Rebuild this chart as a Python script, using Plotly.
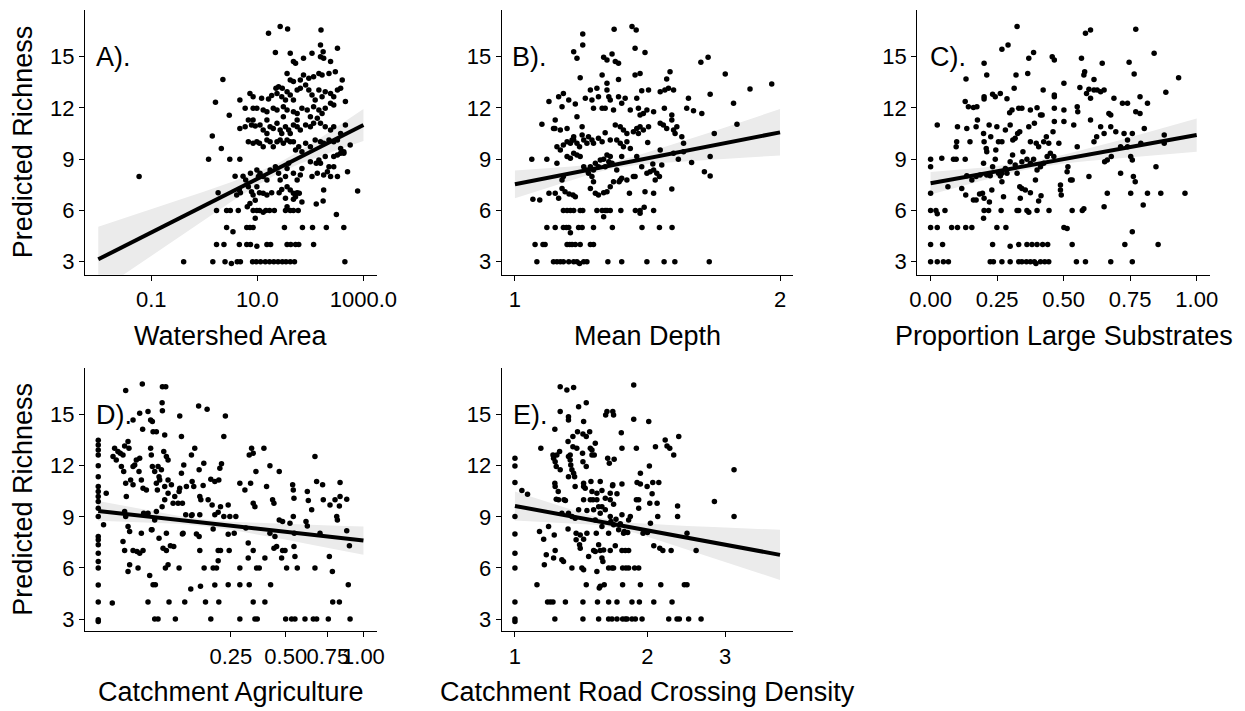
import numpy as np
import plotly.graph_objects as go

# ---------------- Panel A: Watershed Area (log10 km2) ----------------
area_log10 = [
    -1.23, -0.39, 0.16, 0.39, 0.51, 0.62, 0.68, 0.91, 0.98, 1.06, 1.15, 1.23, 1.31, 1.39, 1.47, 1.54, 1.62, 1.70, 2.65,
    0.23, 0.37, 0.66, 0.80, 0.87, 0.99, 1.18, 1.25, 1.56, 1.63, 1.72, 1.78, 2.06,
    0.42, 0.80, 0.86, 0.92, 1.51, 1.85, 2.04, 2.30, 2.63, 0.54, 0.96, 2.49,
    0.23, 0.42, 0.49, 0.64, 0.92, 0.99, 1.04, 1.11, 1.16, 1.23, 1.32, 1.53, 1.62, 1.68, 1.77, 1.56, 1.68, 2.11, 2.24, 0.81, 1.84,
    0.26, 0.61, 0.66, 0.68, 0.58, 0.73, 0.87, 0.83, 0.89, 0.92, 0.96, 0.86,
    0.99, 1.04, 1.11, 1.18, 1.27, 1.41, 1.46, 1.56, 1.62, 1.68, 1.75, 1.79,
    0.78, 1.05, 1.11, 1.18, 0.99, 1.02, 1.24, 1.34, 1.40, 1.43, 1.53, 1.56,
    1.59, 1.68, 1.75, 1.81, 1.84, 2.03, 2.13, 2.19, 2.25, 2.32, 2.35, 2.38,
    2.44, 2.51, 2.70, 2.89, 2.75, 2.00, 2.11, 2.16, 2.28, 2.44, 2.57, 2.63,
    2.25, 1.53, 1.72,
    0.32, 0.48, 0.67, 0.92, 0.83, 0.99, 1.04, 1.11, 1.18, 1.24, 1.30, 1.37,
    1.43, 1.49, 1.56, 1.62, 1.68, 1.72, 1.78, 1.84, 1.91, 2.00, 2.09, 2.19,
    2.25, 2.35, 2.44, 2.51, 0.67, 0.77, 0.83, 0.89, 0.96, 1.05, 1.11, 1.18,
    1.24, 1.30, 1.37, 1.43, 1.46, 1.53, 1.59, 1.62, 1.68, 1.75, 1.81, 1.91,
    2.00, 2.06, 2.19, 2.28, 2.38, 2.44, 2.57, 2.66, 0.77, 0.92, 0.99, 1.11,
    1.18, 1.30, 1.37, 1.49, 1.56, 1.68, 1.75, 1.84, 1.94, 2.06, 2.16, 2.22,
    2.28, 2.38, 0.92, 1.18, 1.49, 1.75, 2.00, 2.13, 2.63, 2.51, 2.57,
    0.47, 0.67, 0.35, 0.21, 0.15, 0.08,
    0.86, 0.92, 1.08, 1.21, 1.27, 1.37, 1.46, 1.53, 1.56, 1.62, 1.68, 1.75,
    1.81, 1.91, 1.97, 2.03, 2.09, 2.16, 2.22, 2.28, 2.38, 2.44, 2.51, 2.57,
    1.35, 1.40, 1.47, 1.56, 1.62, 1.68, 1.81, 1.87, 1.97, 2.06, 2.16, 2.22,
    2.35, 2.47, 2.60, 1.68, 1.72, 1.87, 2.03, 2.19, 2.25, 2.38, 2.51, 1.62,
    1.34, 2.19, 2.24, 1.21, 1.43, 1.57, 2.20, 2.66, 2.44,
]
richness_A = [
    7.98, 3.0, 3.0, 3.0, 2.9, 3.0, 3.0, 3.0, 3.0, 3.0, 3.0, 3.0, 3.0, 3.0, 3.0, 3.0, 3.0, 3.0, 3.0,
    4.0, 4.0, 4.0, 4.0, 4.0, 3.9, 4.0, 4.0, 4.0, 4.0, 4.0, 4.0, 4.0,
    5.0, 5.0, 5.0, 5.0, 5.0, 5.0, 5.0, 5.0, 5.0, 4.76, 5.54, 5.77,
    6.0, 6.0, 6.0, 6.0, 6.0, 6.0, 6.0, 5.9, 6.0, 6.0, 6.0, 6.0, 6.0, 6.0, 6.0, 6.22, 6.65, 6.38, 6.55, 6.22, 6.5,
    7.04, 6.9, 7.2, 7.04, 8.0, 8.0, 8.17, 7.39, 7.1, 6.9, 6.6, 6.41,
    7.39, 7.04, 7.0, 6.9, 7.04, 7.04, 7.23, 7.39, 7.2, 7.0, 7.04, 7.0,
    7.78, 8.17, 7.98, 7.78, 8.37, 7.98, 8.37, 8.56, 8.17, 7.78, 7.98, 8.46,
    8.76, 8.17, 7.78, 8.07, 8.46, 7.98, 8.17, 8.76, 8.07, 8.27, 8.56, 7.98,
    8.56, 7.98, 8.27, 7.14, 9.83, 8.85, 8.76, 8.95, 9.15, 9.15, 9.34, 9.34,
    7.2, 6.71, 6.8,
    9.63, 8.99, 8.99, 9.93, 10.02, 10.02, 9.93, 9.73, 10.12, 10.02, 9.73, 10.02,
    10.12, 9.93, 10.12, 10.02, 10.02, 9.54, 9.73, 9.44, 9.93, 9.73, 10.12, 10.02,
    9.93, 10.12, 10.02, 10.12, 10.8, 10.9, 11.29, 11.0, 10.94, 11.0, 10.71, 10.51,
    10.9, 10.8, 11.1, 10.71, 10.51, 10.9, 10.71, 10.51, 11.0, 10.9, 10.71, 11.0,
    10.9, 11.1, 11.1, 10.9, 10.71, 10.9, 10.51, 11.0, 11.98, 11.98, 11.98, 11.88,
    11.78, 11.98, 11.88, 12.07, 11.88, 11.78, 11.68, 11.98, 11.88, 12.07, 11.88, 11.68,
    11.98, 12.27, 11.29, 11.29, 11.49, 11.29, 11.49, 11.39, 9.44, 9.24, 9.63,
    11.57, 12.46, 13.67, 12.33, 10.36, 8.99,
    12.85, 12.66, 12.56, 12.52, 12.72, 12.85, 12.66, 12.46, 12.95, 12.76, 12.46, 13.05,
    13.15, 13.34, 13.05, 12.76, 12.46, 13.05, 12.66, 12.95, 12.85, 12.66, 13.05, 13.15,
    13.15, 13.24, 13.15, 14.02, 13.63, 13.54, 13.63, 13.93, 13.73, 13.83, 14.02, 13.93,
    14.02, 14.12, 13.63, 14.71, 14.61, 14.9, 15.2, 15.0, 14.9, 14.71, 15.49, 15.2,
    15.25, 15.68, 15.29, 16.37, 16.76, 16.62, 16.56, 12.37, 12.17,
]

# ---------------- Panel B: Mean Depth ----------------
mean_depth = [
    1.059, 1.106, 1.116, 1.126, 1.135, 1.151, 1.166, 1.176, 1.184, 1.197, 1.207, 1.275, 1.322, 1.412, 1.477, 1.519, 1.662,
    1.054, 1.076, 1.082, 1.146, 1.154, 1.161, 1.171, 1.186, 1.218, 1.228, 1.156,
    1.087, 1.111, 1.135, 1.144, 1.151, 1.181, 1.192, 1.228, 1.290, 1.394, 1.459, 1.508,
    1.135, 1.146, 1.156, 1.166, 1.186, 1.194, 1.239, 1.256, 1.266, 1.272, 1.283, 1.319, 1.370, 1.387, 1.437, 1.261, 1.387, 1.402,
    1.048, 1.067, 1.093, 1.111, 1.121, 1.131, 1.140, 1.152, 1.164, 1.171, 1.218, 1.228, 1.234,
    1.244, 1.261, 1.272, 1.283, 1.294, 1.313, 1.322, 1.349, 1.405, 1.437, 1.443, 1.507, 1.369,
    1.045, 1.087, 1.116, 1.135, 1.131, 1.146, 1.156, 1.166, 1.176, 1.186, 1.197, 1.207,
    1.212, 1.218, 1.223, 1.228, 1.234, 1.244, 1.250, 1.261, 1.266, 1.272, 1.278, 1.283,
    1.289, 1.305, 1.317, 1.340, 1.363, 1.393, 1.412, 1.424, 1.437, 1.449, 1.459, 1.468,
    1.434, 1.375, 1.322, 1.587, 1.641, 1.666, 1.666, 1.533, 1.554, 1.462, 1.514,
    1.116, 1.126, 1.135, 1.146, 1.156, 1.166, 1.176, 1.184, 1.192, 1.197, 1.207, 1.212,
    1.223, 1.228, 1.244, 1.256, 1.266, 1.283, 1.305, 1.317, 1.328, 1.340, 1.352, 1.300,
    1.317, 1.328, 1.340, 1.363, 1.375, 1.387, 1.399, 1.418, 1.415, 1.381, 1.161, 1.146,
    1.126, 1.110, 1.166, 1.462, 1.474, 1.487, 1.507, 1.514, 1.520, 1.527, 1.547, 1.554,
    1.684, 1.787,
    1.073, 1.093, 1.106, 1.111, 1.121, 1.131, 1.135, 1.151, 1.171, 1.176, 1.192, 1.202,
    1.218, 1.223, 1.228, 1.239, 1.244, 1.256, 1.266, 1.272, 1.278, 1.283, 1.294, 1.311,
    1.322, 1.334, 1.352, 1.375, 1.381, 1.387, 1.399, 1.412, 1.437, 1.462, 1.480, 1.494,
    1.514, 1.478, 1.507, 1.567, 1.595, 1.630, 1.574, 1.666, 1.771, 1.849, 1.957,
    1.186, 1.256, 1.272, 1.311, 1.369, 1.387, 1.487, 1.500, 1.733, 1.393, 1.418,
    1.272, 1.261, 1.289, 1.300, 1.311, 1.166, 1.176, 1.626, 1.657, 1.369, 1.405,
    1.194, 1.194, 1.296, 1.358, 1.373,
]
richness_B = [
    3.0, 3.0, 3.0, 3.0, 3.0, 3.0, 3.0, 3.0, 2.9, 3.0, 3.0, 3.0, 3.0, 3.0, 3.0, 3.0, 3.0,
    4.0, 4.0, 4.0, 4.0, 4.0, 4.0, 4.0, 4.0, 4.0, 4.0, 4.7,
    5.0, 5.0, 5.0, 5.0, 5.0, 5.0, 5.0, 5.0, 5.0, 5.0, 5.0, 5.0,
    6.0, 6.0, 6.0, 6.0, 6.0, 6.0, 6.0, 6.0, 6.0, 6.0, 6.0, 6.0, 6.0, 6.0, 6.0, 5.63, 5.83, 6.18,
    6.65, 6.61, 7.0, 7.0, 6.71, 7.29, 7.1, 6.96, 6.9, 6.8, 7.29, 7.68, 7.0,
    6.9, 7.04, 7.1, 7.39, 7.68, 7.68, 7.88, 7.0, 7.1, 7.0, 7.78, 7.25, 7.98,
    8.99, 8.99, 8.76, 7.98, 7.78, 9.15, 9.05, 9.34, 9.24, 9.15, 8.56, 8.37,
    8.17, 8.56, 7.98, 8.37, 8.76, 8.56, 8.95, 8.99, 8.56, 9.24, 8.85, 9.15,
    8.76, 8.37, 7.78, 7.78, 7.98, 8.56, 8.17, 8.27, 8.37, 8.17, 7.98, 8.66,
    8.72, 9.15, 9.15, 8.81, 8.27, 8.02, 9.15, 8.99, 9.44, 9.54, 9.34,
    9.73, 9.54, 9.83, 10.02, 9.93, 10.12, 9.93, 9.73, 10.41, 10.12, 9.93, 10.32,
    10.12, 9.93, 10.22, 10.02, 10.55, 10.12, 10.12, 9.93, 9.73, 10.02, 9.63, 11.0,
    10.9, 10.71, 10.51, 10.61, 10.8, 10.9, 10.71, 10.9, 9.97, 10.51, 10.12, 10.8,
    10.71, 10.8, 10.32, 11.1, 11.0, 10.8, 11.29, 10.71, 10.51, 10.9, 10.32, 9.93,
    10.51, 11.04,
    11.04, 12.37, 10.8, 11.29, 12.66, 12.07, 12.85, 12.46, 12.23, 11.49, 10.9, 12.56,
    13.05, 12.46, 11.98, 13.15, 12.66, 11.98, 11.98, 13.05, 12.66, 12.46, 11.88, 12.66,
    12.27, 12.56, 11.88, 12.56, 11.98, 11.59, 11.68, 11.88, 11.78, 12.95, 13.05, 13.15,
    13.05, 11.98, 11.59, 11.98, 11.84, 11.68, 12.56, 12.8, 12.27, 13.1, 13.4,
    13.77, 13.93, 13.44, 13.67, 13.93, 14.02, 13.69, 14.12, 13.99, 13.0, 13.05,
    14.8, 14.96, 15.16, 14.71, 14.61, 15.29, 14.9, 14.67, 14.96, 15.49, 15.25,
    16.33, 15.68, 16.6, 16.76, 16.56,
]

# ---------------- Panel C: Proportion Large Substrates ----------------
large_substrates = [
    0.0, 0.025, 0.048, 0.067, 0.224, 0.236, 0.268, 0.299, 0.331, 0.343, 0.360, 0.375, 0.390, 0.396, 0.413, 0.429, 0.444, 0.548, 0.582, 0.677, 0.758,
    0.0, 0.045, 0.233, 0.299, 0.331, 0.362, 0.381, 0.400, 0.421, 0.440, 0.532, 0.730, 0.855,
    0.0, 0.025, 0.079, 0.101, 0.132, 0.155, 0.249, 0.283, 0.501, 0.513, 0.758,
    0.0, 0.020, 0.025, 0.054, 0.201, 0.218, 0.265, 0.325, 0.331, 0.362, 0.369, 0.400, 0.445, 0.532, 0.570, 0.576, 0.199,
    0.0, 0.065, 0.117, 0.132, 0.161, 0.171, 0.184, 0.195, 0.201, 0.221, 0.230, 0.268,
    0.274, 0.335, 0.337, 0.343, 0.356, 0.375, 0.394, 0.406, 0.415, 0.488, 0.491, 0.526,
    0.664, 0.714, 0.752, 0.762, 0.769, 0.799, 0.815, 0.865, 0.956, 0.652,
    0.0, 0.0, 0.042, 0.086, 0.096, 0.130, 0.136, 0.155, 0.171, 0.186, 0.199, 0.211,
    0.224, 0.233, 0.243, 0.255, 0.262, 0.268, 0.281, 0.287, 0.299, 0.308, 0.318, 0.325,
    0.343, 0.362, 0.375, 0.387, 0.400, 0.413, 0.425, 0.438, 0.450, 0.463, 0.488, 0.513,
    0.532, 0.595, 0.654, 0.664, 0.679, 0.740, 0.752, 0.758, 0.847, 0.516,
    0.096, 0.098, 0.101, 0.136, 0.148, 0.171, 0.176, 0.199, 0.201, 0.209, 0.220, 0.226,
    0.245, 0.249, 0.255, 0.268, 0.281, 0.299, 0.309, 0.318, 0.327, 0.335, 0.347, 0.369,
    0.375, 0.390, 0.397, 0.406, 0.419, 0.425, 0.435, 0.444, 0.460, 0.465, 0.482, 0.501,
    0.538, 0.551, 0.601, 0.614, 0.624, 0.639, 0.652, 0.677, 0.696, 0.714, 0.727, 0.740,
    0.758, 0.790, 0.803, 0.878, 0.878, 0.211,
    0.025, 0.130, 0.142, 0.161, 0.174, 0.201, 0.201, 0.233, 0.243, 0.262, 0.287, 0.297,
    0.306, 0.331, 0.343, 0.375, 0.400, 0.413, 0.423, 0.465, 0.465, 0.465, 0.501, 0.501,
    0.551, 0.561, 0.553, 0.586, 0.595, 0.601, 0.614, 0.626, 0.639, 0.652, 0.670, 0.677,
    0.689, 0.740, 0.771, 0.787, 0.787, 0.815, 0.884, 0.721,
    0.133, 0.211, 0.321, 0.314, 0.365, 0.576, 0.614, 0.645, 0.765, 0.932, 0.201, 0.369, 0.387, 0.457, 0.465, 0.567, 0.579, 0.746, 0.840,
    0.268, 0.291, 0.325, 0.582, 0.601, 0.771,
]
richness_C = [
    3.0, 3.0, 3.0, 3.0, 3.0, 3.0, 3.0, 3.0, 3.0, 3.0, 3.0, 3.0, 3.0, 2.9, 3.0, 3.0, 3.0, 3.0, 3.0, 3.0, 3.0,
    4.0, 4.0, 4.0, 3.9, 4.0, 4.0, 4.0, 4.0, 4.0, 4.0, 4.0, 4.0, 4.0,
    5.0, 5.0, 5.0, 5.0, 5.0, 5.0, 5.0, 5.0, 5.0, 4.95, 4.75,
    6.0, 6.0, 5.8, 6.0, 6.0, 6.0, 6.0, 6.0, 6.0, 6.0, 5.9, 6.0, 6.0, 6.0, 6.0, 6.1, 5.54,
    7.0, 7.39, 7.29, 6.9, 6.61, 6.61, 6.96, 7.0, 6.71, 6.5, 7.2, 7.68,
    6.8, 7.39, 6.71, 7.29, 7.2, 7.04, 7.78, 6.55, 6.86, 7.2, 6.9, 7.78,
    7.0, 8.17, 7.0, 7.98, 7.68, 6.32, 7.0, 7.0, 7.0, 6.22,
    8.56, 8.99, 9.05, 8.99, 8.99, 8.99, 8.03, 7.78, 7.98, 8.07, 8.76, 8.07,
    8.03, 8.56, 8.99, 8.17, 8.01, 8.17, 8.46, 8.17, 8.85, 9.24, 8.66, 8.17,
    8.85, 8.99, 8.76, 8.99, 8.37, 8.56, 8.76, 9.15, 9.34, 9.15, 7.49, 8.27,
    7.78, 7.98, 8.85, 8.95, 9.15, 9.73, 9.15, 8.95, 8.56, 8.56,
    9.73, 10.02, 10.9, 10.8, 10.02, 10.9, 11.29, 10.51, 10.02, 9.63, 11.0, 10.32,
    9.54, 10.9, 10.02, 10.02, 10.71, 11.0, 10.12, 10.22, 10.51, 10.61, 9.44, 10.9,
    10.02, 11.1, 9.93, 9.73, 11.59, 10.02, 10.32, 9.93, 10.61, 11.2, 9.93, 11.2,
    11.0, 9.73, 11.29, 10.02, 10.32, 10.9, 10.51, 10.9, 10.61, 9.73, 10.51, 10.12,
    10.51, 9.93, 10.8, 10.41, 9.93, 9.44,
    11.0, 12.37, 12.07, 12.03, 12.07, 12.66, 12.52, 12.8, 12.66, 12.85, 12.54, 11.72,
    11.88, 11.98, 11.98, 11.88, 12.01, 11.59, 13.05, 11.98, 12.66, 12.76, 11.88, 13.44,
    12.07, 13.2, 11.78, 12.85, 13.09, 12.56, 13.05, 13.05, 12.95, 13.05, 11.68, 11.59,
    12.56, 12.27, 11.78, 11.68, 12.66, 12.27, 12.91, 12.27,
    13.69, 13.93, 13.93, 13.15, 14.02, 13.93, 13.67, 14.61, 13.99, 13.77, 14.61, 14.9, 15.25, 15.0, 14.8, 14.9, 14.12, 14.67, 15.2,
    15.43, 15.68, 16.76, 16.37, 16.56, 16.6,
]

# ---------------- Panel D: Catchment Agriculture (sqrt scale) ----------------
agriculture = [
    0.0, 0.0, 0.0, 0.0, 0.0, 0.0, 0.0, 0.0, 0.0, 0.0, 0.0, 0.0, 0.0, 0.0, 0.0, 0.0, 0.0, 0.0, 0.0, 0.0, 0.0, 0.0,
    0.0004, 0.0009, 0.0028, 0.0107, 0.0276, 0.0585, 0.0648, 0.058, 0.0585,
    0.0172, 0.0244, 0.0352, 0.039, 0.0416, 0.028, 0.0427, 0.048, 0.0628, 0.0944, 0.0984, 0.1432, 0.1685, 0.2298, 0.2242,
    0.0038, 0.0055, 0.0069, 0.0087, 0.0099, 0.0126, 0.0134, 0.0031, 0.0046, 0.0076, 0.0092, 0.0172,
    0.0206, 0.0244, 0.0189, 0.0236, 0.0149, 0.0112, 0.0107, 0.0172, 0.0264, 0.0285, 0.0329, 0.039,
    0.040, 0.0416, 0.0453, 0.0508, 0.0525, 0.0567, 0.061, 0.066, 0.0693, 0.048, 0.0497, 0.0537,
    0.0628, 0.0693, 0.0761, 0.0832, 0.0906, 0.0944, 0.0693, 0.0796, 0.0628, 0.058, 0.048, 0.0453,
    0.0352, 0.0293, 0.0411, 0.0525, 0.066, 0.1023, 0.1007, 0.104, 0.0984, 0.0929,
    0.0099, 0.0107, 0.0126, 0.014, 0.0087, 0.0099, 0.0126, 0.014, 0.0225, 0.0172, 0.0213, 0.0244,
    0.0285, 0.0264, 0.0401, 0.0376, 0.0427, 0.0464, 0.0352, 0.0453, 0.0508, 0.0597, 0.066, 0.0641,
    0.0693, 0.0712, 0.0846, 0.074, 0.081, 0.0929, 0.1007, 0.1064, 0.1217, 0.1235, 0.1371, 0.1447,
    0.1466, 0.1486, 0.1594, 0.1635, 0.1801, 0.1932, 0.2067, 0.1877, 0.1988, 0.2045, 0.2045, 0.2125,
    0.1877, 0.1932, 0.2045, 0.2125, 0.2067, 0.2102, 0.216, 0.1466, 0.1253, 0.1088, 0.1105, 0.1253,
    0.1297, 0.1324, 0.1235, 0.1447, 0.1466, 0.1496, 0.1564, 0.1717, 0.1844, 0.1801, 0.1932, 0.1584,
    0.2242, 0.2401, 0.2462, 0.2692, 0.2437, 0.2401, 0.2401, 0.2628,
    0.2851, 0.2851, 0.2851, 0.2851, 0.3058, 0.3098, 0.3198, 0.3198, 0.3241, 0.3343, 0.3415, 0.330,
    0.3241, 0.3415, 0.349, 0.3535, 0.3415, 0.349, 0.3594, 0.3415, 0.3564, 0.3685, 0.3949, 0.3949,
    0.3902, 0.4029, 0.4191, 0.4191, 0.4224, 0.4321, 0.4389, 0.4439, 0.4389, 0.4523, 0.4658, 0.4658,
    0.4832, 0.4832, 0.478, 0.4959, 0.5045, 0.4994, 0.5226, 0.5373, 0.5409, 0.5446, 0.5409, 0.5464,
    0.5446, 0.5501, 0.5318, 0.5501, 0.5633, 0.6077, 0.6136, 0.6215, 0.6215, 0.6274, 0.6476, 0.6577,
    0.6678, 0.6678, 0.678, 0.678, 0.6992, 0.7157, 0.72, 0.7527, 0.7594, 0.7637, 0.7795, 0.7817,
    0.7973, 0.8086, 0.8131, 0.8268, 0.8268, 0.8314, 0.8314, 0.878, 0.889, 0.897, 0.878, 0.9018,
]
richness_D = [
    2.96, 2.86, 4.0, 5.0, 6.0, 6.38, 6.87, 7.36, 7.65, 7.85, 9.02, 9.5, 9.9, 10.19, 10.49, 10.78, 11.36, 12.0, 12.63, 12.93, 13.22, 13.5,
    8.53, 10.39, 3.94, 16.41, 16.8, 16.64, 16.64, 15.7, 15.23,
    14.69, 15.08, 15.18, 14.69, 14.59, 14.14, 14.0, 14.0, 13.8, 14.92, 13.71, 15.51, 15.31, 14.92, 13.71,
    13.03, 12.83, 12.73, 12.63, 13.16, 13.42, 13.03, 12.54, 12.34, 11.95, 11.66, 11.95,
    12.34, 12.44, 12.05, 11.66, 11.17, 10.19, 10.97, 10.88, 11.17, 10.68, 10.58, 13.03,
    12.63, 11.95, 11.66, 11.95, 11.36, 11.76, 12.83, 12.54, 12.34, 10.97, 10.58, 11.17,
    10.78, 11.17, 10.88, 10.19, 9.8, 10.68, 10.39, 9.8, 10.0, 9.6, 9.31, 8.82,
    9.21, 9.21, 8.24, 7.75, 8.04, 8.04, 9.8, 12.05, 11.56, 10.49,
    9.31, 9.02, 8.43, 8.14, 7.55, 7.03, 5.79, 6.19, 6.0, 7.03, 6.97, 6.87,
    7.03, 8.04, 8.24, 5.56, 5.01, 5.01, 4.0, 3.0, 3.0, 7.16, 7.03, 6.0,
    6.19, 4.0, 3.0, 7.3, 7.26, 6.0, 8.0, 4.0, 4.76, 9.08, 8.0, 7.85,
    7.03, 4.92, 6.0, 4.0, 3.0, 5.0, 4.0, 6.0, 6.0, 6.42, 7.03, 7.03,
    8.28, 9.12, 9.27, 9.6, 11.17, 11.85, 12.11, 9.12, 9.12, 9.12, 10.78, 11.07,
    10.78, 13.03, 12.63, 11.76, 10.19, 10.0, 10.84, 10.0, 9.7, 11.21, 11.07, 12.15,
    9.02, 9.7, 9.02, 9.02, 7.03, 5.01, 7.98, 8.04,
    6.0, 5.01, 3.0, 10.97, 10.58, 8.34, 7.46, 6.58, 12.63, 13.03, 12.73, 10.97,
    5.01, 9.8, 9.6, 11.66, 7.03, 3.0, 3.0, 4.0, 6.0, 6.0, 6.58, 4.0,
    13.03, 10.78, 12.0, 8.04, 5.01, 10.0, 9.8, 7.85, 7.16, 7.26, 11.66, 8.82,
    8.73, 7.03, 6.58, 7.03, 6.0, 3.0, 8.63, 10.88, 10.58, 10.09, 9.02, 8.04,
    7.26, 6.68, 3.0, 3.0, 6.0, 3.0, 8.73, 8.47, 10.49, 9.96, 9.41, 3.0,
    12.54, 6.0, 3.0, 11.07, 8.04, 10.88, 10.0, 3.0, 6.68, 9.7, 5.79, 4.0,
    10.0, 9.02, 8.82, 4.0, 9.64, 10.19, 11.02, 8.18, 5.01, 7.3, 10.04, 3.0,
]

# ---------------- Panel E: Catchment Road Crossing Density (log scale) ----------------
road_density = [
    1.0, 1.0, 1.0, 1.0, 1.0, 1.0, 1.0, 1.0, 1.0, 1.0,
    1.037, 1.068, 1.122, 1.137, 1.145, 1.162, 1.166, 1.178, 1.192, 1.186, 1.203, 1.220,
    1.224, 1.228, 1.234, 1.232, 1.220, 1.224, 1.234, 1.241, 1.245, 1.232, 1.234, 1.232,
    1.241, 1.254, 1.256, 1.263, 1.267, 1.267, 1.267, 1.278, 1.278, 1.289, 1.293, 1.302,
    1.302, 1.312, 1.323, 1.323, 1.320, 1.323, 1.323, 1.320, 1.323, 1.335, 1.335, 1.339,
    1.347, 1.347, 1.347, 1.354, 1.354, 1.359, 1.359, 1.366, 1.370, 1.370, 1.377, 1.377,
    1.382, 1.387, 1.395, 1.395, 1.402, 1.407, 1.407, 1.419, 1.424, 1.427, 1.427, 1.432,
    1.432, 1.432, 1.432, 1.432, 1.432, 1.427, 1.427, 1.444, 1.452, 1.452, 1.452, 1.452,
    1.457, 1.457, 1.470, 1.478, 1.483, 1.483, 1.488, 1.496, 1.496, 1.496, 1.504, 1.509,
    1.509, 1.514, 1.522, 1.522, 1.522, 1.530, 1.535, 1.535, 1.535, 1.540, 1.549, 1.549,
    1.549, 1.554, 1.562, 1.562, 1.562, 1.562, 1.576, 1.576, 1.576, 1.576, 1.584, 1.590,
    1.595, 1.604, 1.604, 1.607, 1.618, 1.624, 1.632, 1.632, 1.632, 1.632, 1.638, 1.646,
    1.646, 1.646, 1.646, 1.652, 1.661, 1.661, 1.666, 1.668, 1.668, 1.675, 1.675, 1.675,
    1.675, 1.680, 1.690, 1.696, 1.705, 1.705, 1.705, 1.720, 1.735, 1.744, 1.750, 1.750,
    1.750, 1.750, 1.756, 1.756, 1.756, 1.765, 1.771, 1.781, 1.781, 1.787, 1.797, 1.803,
    1.812, 1.812, 1.812, 1.828, 1.844, 1.844, 1.861, 1.870, 1.877, 1.887, 1.887, 1.894,
    1.910, 1.910, 1.910, 1.917, 1.927, 1.927, 1.927, 1.944, 1.954, 1.861, 1.996, 2.000,
    2.013, 2.020, 2.024, 2.031, 2.049, 2.056, 2.067, 2.067, 2.085, 2.103, 2.110, 2.122,
    2.133, 2.144, 2.167, 2.194, 2.215, 2.235, 2.247, 2.263, 2.274, 2.294, 2.334, 2.341,
    2.341, 2.355, 2.362, 2.425, 2.459, 2.459, 2.480, 2.579, 2.647, 2.838, 3.145, 3.145,
]
richness_E = [
    12.44, 11.99, 11.01, 9.02, 8.0, 6.87, 6.0, 4.0, 3.0, 2.86,
    10.54, 10.33, 5.01, 8.14, 13.03, 7.69, 6.19, 6.77, 8.43, 4.0, 4.0, 4.0,
    6.58, 7.94, 7.03, 3.0, 12.63, 12.44, 12.24, 11.95, 12.63, 10.97, 10.78, 14.14,
    10.04, 10.49, 10.0, 12.83, 11.76, 15.18, 16.64, 9.21, 6.48, 6.38, 10.0, 9.96,
    4.0, 16.45, 14.88, 14.69, 13.42, 12.54, 11.36, 8.28, 9.21, 12.63, 12.34, 12.05,
    11.76, 9.02, 6.0, 13.12, 13.71, 16.6, 11.56, 11.36, 10.78, 8.92, 8.04, 7.65,
    13.03, 14.0, 15.47, 9.41, 7.36, 7.94, 7.16, 6.0, 12.73, 12.24, 13.87, 14.59,
    10.97, 10.78, 10.0, 7.69, 5.89, 3.0, 4.0, 10.68, 15.7, 13.71, 11.95, 5.01,
    9.37, 8.04, 6.68, 14.0, 13.03, 10.0, 11.07, 12.93, 12.63, 10.49, 10.0, 9.41,
    7.03, 12.63, 13.32, 8.82, 6.97, 8.04, 10.39, 10.0, 5.79, 4.0, 3.0, 9.6,
    7.36, 4.82, 11.07, 9.21, 7.03, 4.92, 9.6, 10.54, 8.43, 6.58, 6.38, 7.06,
    5.01, 9.41, 10.09, 14.98, 15.18, 12.44, 8.04, 6.0, 4.0, 3.0, 12.15, 10.39,
    10.0, 9.02, 7.03, 8.73, 6.0, 3.0, 10.82, 10.88, 15.18, 14.98, 9.74, 8.53,
    6.0, 12.38, 7.3, 8.86, 10.35, 3.0, 4.0, 8.24, 8.59, 13.94, 13.03, 10.93,
    9.12, 7.03, 6.0, 5.01, 3.0, 8.04, 8.14, 3.0, 7.03, 6.0, 3.0, 8.08,
    7.03, 6.0, 8.82, 9.02, 3.0, 4.0, 14.73, 6.0, 3.0, 10.0, 13.03, 11.01,
    10.0, 9.51, 6.0, 4.0, 10.93, 11.56, 5.01, 3.0, 8.04, 16.74, 10.78, 8.08,
    14.59, 11.99, 9.8, 8.63, 10.35, 11.01, 7.3, 4.0, 13.12, 9.8, 9.02, 11.01,
    7.16, 5.01, 7.03, 13.51, 13.16, 3.0, 13.03, 7.03, 4.0, 12.63, 3.0, 9.02,
    9.64, 13.71, 3.0, 5.01, 5.01, 8.04, 3.0, 7.03, 3.0, 9.9, 11.76, 9.02,
]

# ---------------- Fitted lines with confidence ribbons ----------------
fitA_area_log10 = [-2, -1.5, -1, -0.5, 0, 0.5, 1, 1.4, 1.8, 2.2, 2.6, 3]
fitA_fit = [3.14, 3.93, 4.71, 5.50, 6.28, 7.07, 7.86, 8.48, 9.11, 9.74, 10.37, 11.0]
fitA_lo = [1.24, 2.30, 3.35, 4.41, 5.45, 6.49, 7.48, 8.18, 8.74, 9.21, 9.64, 10.07]
fitA_hi = [5.04, 5.55, 6.07, 6.59, 7.11, 7.65, 8.23, 8.78, 9.49, 10.27, 11.10, 11.93]

fitB_depth = [1.0, 1.072, 1.149, 1.231, 1.292, 1.366, 1.464, 1.569, 1.682, 1.834, 2.0]
fitB_fit = [7.53, 7.83, 8.14, 8.44, 8.65, 8.90, 9.20, 9.51, 9.81, 10.19, 10.57]
fitB_lo = [6.72, 7.22, 7.73, 8.19, 8.45, 8.64, 8.77, 8.88, 8.98, 9.10, 9.21]
fitB_hi = [8.34, 8.44, 8.55, 8.69, 8.85, 9.16, 9.63, 10.14, 10.64, 11.28, 11.93]

fitC_subs = [0.0, 0.1, 0.2, 0.3, 0.4, 0.5, 0.6, 0.7, 0.8, 0.9, 1.0]
fitC_fit = [7.59, 7.87, 8.15, 8.44, 8.72, 9.0, 9.28, 9.56, 9.85, 10.13, 10.41]
fitC_lo = [6.93, 7.36, 7.78, 8.19, 8.52, 8.75, 8.91, 9.05, 9.19, 9.32, 9.44]
fitC_hi = [8.25, 8.38, 8.52, 8.70, 8.92, 9.26, 9.65, 10.07, 10.51, 10.94, 11.38]

fitD_agri = [0.0, 0.01, 0.04, 0.09, 0.16, 0.25, 0.36, 0.49, 0.64, 0.81, 1.0]
fitD_fit = [9.35, 9.18, 9.00, 8.83, 8.65, 8.48, 8.31, 8.13, 7.96, 7.78, 7.61]
fitD_lo = [8.77, 8.73, 8.66, 8.59, 8.45, 8.24, 7.97, 7.68, 7.38, 7.08, 6.78]
fitD_hi = [9.93, 9.63, 9.34, 9.07, 8.85, 8.72, 8.65, 8.58, 8.54, 8.48, 8.44]

fitE_road = [1.0, 1.149, 1.320, 1.516, 1.647, 1.866, 2.144, 2.462, 2.828, 3.364, 4.0]
fitE_fit = [9.64, 9.35, 9.07, 8.78, 8.61, 8.35, 8.06, 7.77, 7.49, 7.13, 6.77]
fitE_lo = [8.79, 8.72, 8.65, 8.54, 8.41, 8.06, 7.58, 7.08, 6.58, 5.94, 5.30]
fitE_hi = [10.49, 9.98, 9.49, 9.02, 8.81, 8.64, 8.54, 8.46, 8.40, 8.32, 8.24]

y_ticks = [3, 6, 9, 12, 15]
x_titles = ["Watershed Area", "Mean Depth", "Proportion Large Substrates",
            "Catchment Agriculture", "Catchment Road Crossing Density"]
panel_tags = ["A).", "B).", "C).", "D).", "E)."]

FONT = "Arial, 'Liberation Sans', sans-serif"
W, H = 1245, 711

sqrt = np.sqrt
panels = [
    dict(px=np.power(10.0, area_log10), py=richness_A, fx=np.power(10.0, fitA_area_log10),
         fy=fitA_fit, lo=fitA_lo, hi=fitA_hi),
    dict(px=mean_depth, py=richness_B, fx=fitB_depth, fy=fitB_fit, lo=fitB_lo, hi=fitB_hi),
    dict(px=large_substrates, py=richness_C, fx=fitC_subs, fy=fitC_fit, lo=fitC_lo, hi=fitC_hi),
    dict(px=sqrt(agriculture), py=richness_D, fx=sqrt(fitD_agri), fy=fitD_fit, lo=fitD_lo, hi=fitD_hi),
    dict(px=road_density, py=richness_E, fx=fitE_road, fy=fitE_fit, lo=fitE_lo, hi=fitE_hi),
]

# panel geometry in pixels (left, right, top, bottom)
geom = [
    (85.0, 376.7, 10.0, 274.7),
    (501.7, 793.3, 10.0, 274.7),
    (917.3, 1210.0, 10.0, 274.7),
    (85.0, 376.7, 368.3, 631.0),
    (501.7, 793.3, 368.3, 631.0),
]

fig = go.Figure()
for i, p in enumerate(panels):
    n = "" if i == 0 else str(i + 1)
    xa, ya = "x" + n, "y" + n
    fig.add_trace(go.Scatter(x=p["fx"], y=p["lo"], mode="lines", line=dict(width=0, color="rgba(0,0,0,0)"),
                             hoverinfo="skip", showlegend=False, xaxis=xa, yaxis=ya))
    fig.add_trace(go.Scatter(x=p["fx"], y=p["hi"], mode="lines", line=dict(width=0, color="rgba(0,0,0,0)"),
                             fill="tonexty", fillcolor="#EBEBEB", hoverinfo="skip", showlegend=False,
                             xaxis=xa, yaxis=ya))
    fig.add_trace(go.Scatter(x=p["px"], y=p["py"], mode="markers",
                             marker=dict(size=5.5, color="black", line=dict(width=0)),
                             showlegend=False, xaxis=xa, yaxis=ya, cliponaxis=False))
    fig.add_trace(go.Scatter(x=p["fx"], y=p["fy"], mode="lines", line=dict(width=4, color="black"),
                             showlegend=False, xaxis=xa, yaxis=ya))

common_axis = dict(showline=True, linecolor="black", linewidth=1.3, ticks="outside", ticklen=5,
                   tickwidth=1.3, tickcolor="black", showgrid=False, zeroline=False, tickangle=0,
                   tickfont=dict(family=FONT, size=22, color="black"), automargin=False)

x_specs = [
    dict(type="log", range=[-2.25, 3.25], tickvals=[0.1, 10, 1000], ticktext=["0.1", "10.0", "1000.0"]),
    dict(type="log", range=[-0.01505, 0.31608], tickvals=[1, 2], ticktext=["1", "2"]),
    dict(type="linear", range=[-0.05, 1.05], tickvals=[0, 0.25, 0.5, 0.75, 1.0],
         ticktext=["0.00", "0.25", "0.50", "0.75", "1.00"]),
    dict(type="linear", range=[-0.05, 1.05], tickvals=list(sqrt([0.25, 0.5, 0.75, 1.0])),
         ticktext=["0.25", "0.50", "0.75", "1.00"]),
    dict(type="log", range=[-0.0301, 0.6322], tickvals=[1, 2, 3], ticktext=["1", "2", "3"]),
]
y_ranges = [[2.24, 17.73]] * 3 + [[2.30, 17.72]] * 2
tag_x = [-2.08, -0.006, -0.01, -0.015, -0.009]

annotations = []
layout = {}
for i, (l, r, t, b) in enumerate(geom):
    n = "" if i == 0 else str(i + 1)
    xd = [l / W, r / W]
    yd = [1 - b / H, 1 - t / H]
    layout["xaxis" + n] = dict(common_axis, domain=xd, anchor="y" + n, **x_specs[i])
    layout["yaxis" + n] = dict(common_axis, domain=yd, anchor="x" + n, range=y_ranges[i],
                               tickvals=y_ticks, ticktext=[str(v) for v in y_ticks])
    annotations.append(dict(text=x_titles[i], xref="paper", yref="paper", x=(l + r) / 2 / W,
                            y=1 - (b + 61) / H, xanchor="center", yanchor="middle", showarrow=False,
                            font=dict(family=FONT, size=27, color="black")))
    annotations.append(dict(text=panel_tags[i], xref="x" + n, yref="y" + n, x=tag_x[i], y=15,
                            xanchor="left", yanchor="middle", showarrow=False,
                            font=dict(family=FONT, size=27, color="black")))

for (t, b) in [(10.0, 274.7), (368.3, 631.0)]:
    annotations.append(dict(text="Predicted Richness", xref="paper", yref="paper", x=23 / W,
                            y=1 - (t + b) / 2 / H, xanchor="center", yanchor="middle", textangle=-90,
                            showarrow=False, font=dict(family=FONT, size=27, color="black")))

fig.update_layout(width=W, height=H, margin=dict(l=0, r=0, t=0, b=0), template="none",
                  paper_bgcolor="white", plot_bgcolor="white", showlegend=False,
                  annotations=annotations, **layout)

fig.write_html("out.html")
